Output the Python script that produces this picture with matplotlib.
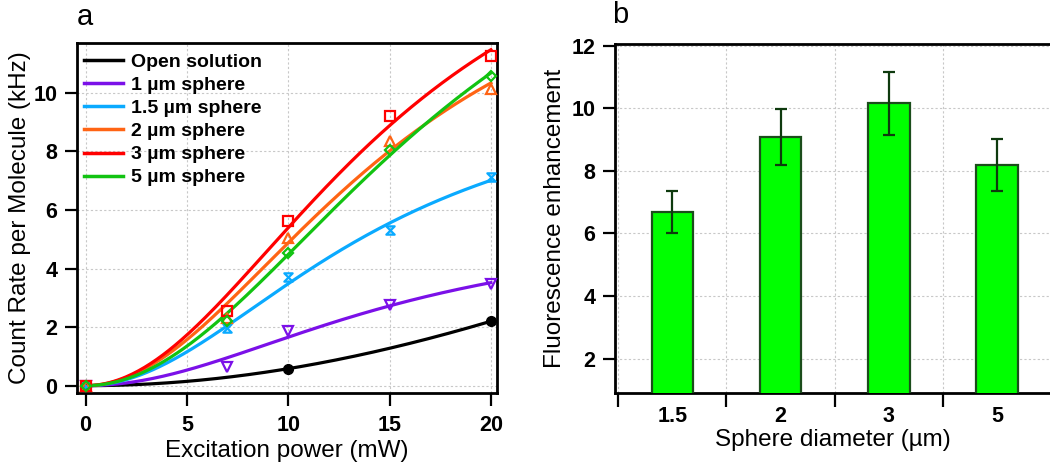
import numpy as np
import matplotlib
matplotlib.use("Agg")
import matplotlib.pyplot as plt
from matplotlib.path import Path

plt.rcParams['font.family'] = ['Liberation Sans', 'DejaVu Sans']

# ---------------- data: panel a ----------------
power_open = [0, 10, 20]
rate_open = [0.0, 0.58, 2.20]

power = [0, 7, 10, 15, 20]
rate_1um = [0.0, 0.64, 1.88, 2.76, 3.47]
rate_15um = [0.0, 1.97, 3.71, 5.30, 7.12]
rate_2um = [0.0, 2.31, 5.04, 8.36, 10.13]
rate_3um = [0.0, 2.54, 5.61, 9.22, 11.26]
rate_5um = [0.0, 2.20, 4.53, 8.05, 10.58]

series_labels = ["Open solution", "1 \u00b5m sphere", "1.5 \u00b5m sphere",
                 "2 \u00b5m sphere", "3 \u00b5m sphere", "5 \u00b5m sphere"]
series_colors = ["#000000", "#7B10E8", "#0AAAFF", "#FF6414", "#FF0000", "#12C312"]

# ---------------- data: panel b ----------------
diameters = ["1.5", "2", "3", "5"]
enhancement = [6.68, 9.07, 10.16, 8.17]
enh_err = [0.67, 0.90, 1.01, 0.83]

# hourglass marker
hourglass = Path([(-1, 1), (1, 1), (-1, -1), (1, -1), (-1, 1)],
                 [Path.MOVETO, Path.LINETO, Path.LINETO, Path.LINETO, Path.CLOSEPOLY])

def sat_fit(x, y):
    """least-squares fit of y = a x^2 / (1 + b x^2)"""
    x = np.asarray(x, float)
    y = np.asarray(y, float)
    best = None
    for b in np.linspace(0.0, 0.03, 3001):
        f = x**2 / (1 + b * x**2)
        a = np.dot(f, y) / np.dot(f, f)
        sse = np.sum((a * f - y) ** 2)
        if best is None or sse < best[0]:
            best = (sse, a, b)
    return best[1], best[2]

fig = plt.figure(figsize=(10.5, 4.7), dpi=100)

TICK_FS = 15.5
LABEL_FS = 17.5

# ---------------- panel a ----------------
ax = fig.add_axes([77/1050, 1-393/470, 420/1050, 350/470])
xs = [power_open] + [power] * 5
ys = [rate_open, rate_1um, rate_15um, rate_2um, rate_3um, rate_5um]
markers = ['o', 'v', hourglass, '^', 's', 'D']
msizes = [7, 7, 6, 7, 7, 5]
xx = np.linspace(0, 20, 200)
for i, (x, y) in enumerate(zip(xs, ys)):
    a, b = sat_fit(x, y)
    c = series_colors[i]
    ax.plot(xx, a * xx**2 / (1 + b * xx**2), color=c, lw=2.3, label=series_labels[i], zorder=3)
    if i == 0:
        ax.plot(x, y, linestyle='none', marker='o', ms=7, color=c, zorder=4)
    else:
        ax.plot(x, y, linestyle='none', marker=markers[i], ms=msizes[i], mfc='none',
                mec=c, mew=1.6, zorder=4)

ax.set_xlim(-0.42, 20.3)
ax.set_ylim(-0.25, 11.7)
ax.set_xticks([0, 5, 10, 15, 20])
ax.set_yticks([0, 2, 4, 6, 8, 10])
ax.grid(True, color='#c8c8c8', linestyle=(0, (2, 2)), linewidth=0.8)
ax.set_axisbelow(True)
for s in ax.spines.values():
    s.set_linewidth(2.0)
ax.tick_params(axis='both', direction='out', length=9, width=1.6, labelsize=TICK_FS, pad=5)
ax.tick_params(axis='x', pad=7)
for lab in ax.get_xticklabels() + ax.get_yticklabels():
    lab.set_fontweight('bold')
ax.set_xlabel("Excitation power (mW)", fontsize=LABEL_FS, labelpad=3)
ax.set_ylabel("Count Rate per Molecule (kHz)", fontsize=LABEL_FS, labelpad=2)
leg = ax.legend(loc='upper left', bbox_to_anchor=(0.016, 0.97), frameon=False,
                borderpad=0, borderaxespad=0, handlelength=2.0, handletextpad=0.45,
                labelspacing=0.28, prop={'weight': 'bold', 'size': 14})
for h in leg.get_lines():
    h.set_linewidth(2.5)

fig.text(85/1050, 1-17/470, "a", fontsize=21, ha='center', va='center')

# ---------------- panel b ----------------
bx = fig.add_axes([615/1050, 1-393/470, 436/1050, 349/470])
pos = np.arange(len(diameters))
bx.bar(pos, enhancement, width=0.385, color='#00FF00', edgecolor='#1B4D1B',
       linewidth=1.6, zorder=3)
bx.errorbar(pos, enhancement, yerr=enh_err, fmt='none', ecolor='#0E3A0E',
            elinewidth=1.6, capsize=4, capthick=1.6, zorder=4)
bx.set_xlim(-0.53, 3.5)
bx.set_ylim(0.9, 12.05)
bx.set_yticks([2, 4, 6, 8, 10, 12])
bx.set_xticks(np.arange(-0.5, 3.0, 1.0))
bx.set_xticklabels([])
bx.set_xticks(pos, minor=True)
bx.set_xticklabels(diameters, minor=True)
bx.tick_params(axis='x', which='minor', length=0, labelsize=TICK_FS, pad=9)
bx.tick_params(axis='x', which='major', direction='out', length=10, width=1.6)
bx.tick_params(axis='y', direction='out', length=9, width=1.6, labelsize=TICK_FS, pad=5)
for lab in bx.get_xticklabels(minor=True) + bx.get_yticklabels():
    lab.set_fontweight('bold')
bx.grid(True, which='major', color='#c8c8c8', linestyle=(0, (2, 2)), linewidth=0.8)
bx.set_axisbelow(True)
for s in bx.spines.values():
    s.set_linewidth(2.0)
bx.spines['right'].set_visible(False)
bx.set_xlabel("Sphere diameter (\u00b5m)", fontsize=LABEL_FS, labelpad=2)
bx.set_ylabel("Fluorescence enhancement", fontsize=LABEL_FS, labelpad=4)

fig.text(620/1050, 1-15/470, "b", fontsize=21, ha='center', va='center')

fig.savefig("out.png", dpi=100)
